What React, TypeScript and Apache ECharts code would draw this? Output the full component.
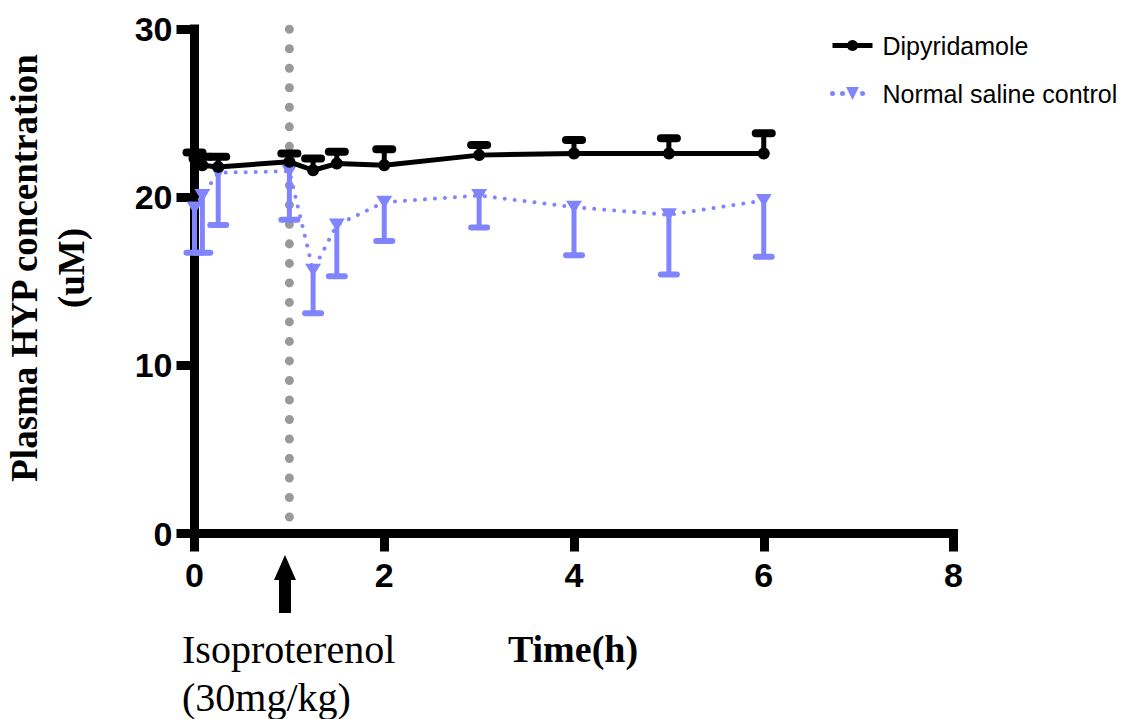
import React, { useEffect, useRef } from "react";
import * as echarts from "echarts";

// ---- data ----
const timePoints = [0, 0.083, 0.25, 1, 1.25, 1.5, 2, 3, 4, 5, 6];
const dipyridamoleMean = [22.3, 21.9, 21.8, 22.1, 21.6, 22.0, 21.9, 22.5, 22.6, 22.6, 22.6];
const dipyridamoleUpper = [22.65, 22.4, 22.4, 22.6, 22.3, 22.7, 22.85, 23.1, 23.4, 23.5, 23.8];
const salineMean = [19.35, 20.1, 21.45, 21.55, 15.65, 18.35, 19.7, 20.1, 19.4, 18.95, 19.8];
const salineLower = [16.7, 16.7, 18.35, 18.65, 13.1, 15.3, 17.4, 18.2, 16.55, 15.4, 16.45];
const seriesNames = ["Dipyridamole", "Normal saline control"];
const xTicks = [0, 2, 4, 6, 8];
const yTicks = [0, 10, 20, 30];
const injectionTime = 1;
const injectionLineRange = [0.98, 30.6];
const yAxisTitle = ["Plasma HYP concentration", "(uM)"];
const xAxisTitle = "Time(h)";
const injectionLabel = ["Isoproterenol", "(30mg/kg)"];

const BLUE = "#8084FF";
const SANS = "'Liberation Sans', Arial, Helvetica, sans-serif";
const SERIF = "'Liberation Serif', 'Times New Roman', serif";

function errorBarRenderer(color: string, capLen: number, capWidth: number) {
  return (_params: any, api: any) => {
    const x = api.value(0);
    const m = api.value(1);
    const e = api.value(2);
    const p0 = api.coord([x, m]);
    const p1 = api.coord([x, e]);
    return {
      type: "group",
      children: [
        {
          type: "line",
          shape: { x1: p0[0], y1: p0[1], x2: p1[0], y2: p1[1] },
          style: { stroke: color, lineWidth: 5 },
        },
        {
          type: "line",
          shape: { x1: p1[0] - capLen, y1: p1[1], x2: p1[0] + capLen, y2: p1[1] },
          style: { stroke: color, lineWidth: capWidth, lineCap: "round" },
        },
      ],
    };
  };
}

export default function App() {
  const ref = useRef<HTMLDivElement>(null);
  useEffect(() => {
    if (!ref.current) return;
    const chart = echarts.init(ref.current, undefined, { renderer: "svg" });
    const axisCommon = {
      type: "value" as const,
      axisLine: { show: true, onZero: false, lineStyle: { color: "#000", width: 9, cap: "square" } },
      axisTick: { show: true, length: 18, lineStyle: { color: "#000", width: 9 } },
      splitLine: { show: false },
    };
    const legendText = { fontSize: 25, fontFamily: SANS, color: "#000", padding: [0, 0, 0, 5] };
    chart.setOption({
      animation: false,
      backgroundColor: "#fff",
      grid: { left: 194.5, right: 193.5, top: 29, bottom: 185.5, containLabel: false },
      xAxis: {
        ...axisCommon,
        min: xTicks[0],
        max: xTicks[xTicks.length - 1],
        interval: xTicks[1] - xTicks[0],
        axisLabel: { fontSize: 34, fontWeight: "bold", color: "#000", fontFamily: SANS, margin: 24 },
      },
      yAxis: {
        ...axisCommon,
        min: yTicks[0],
        max: yTicks[yTicks.length - 1],
        interval: yTicks[1] - yTicks[0],
        axisLabel: { fontSize: 34, fontWeight: "bold", color: "#000", fontFamily: SANS, margin: 22 },
      },
      legend: [
        {
          data: [seriesNames[0]],
          left: 825,
          top: 28,
          itemWidth: 40,
          itemHeight: 14,
          lineStyle: { width: 5, color: "#000" },
          textStyle: legendText,
        },
        {
          data: [seriesNames[1]],
          left: 825,
          top: 76,
          itemWidth: 40,
          itemHeight: 16,
          lineStyle: { width: 5, color: BLUE, type: [0.01, 10], cap: "round" },
          textStyle: legendText,
        },
      ],
      series: [
        {
          type: "line",
          silent: true,
          clip: false,
          symbol: "none",
          data: [
            [injectionTime, injectionLineRange[0]],
            [injectionTime, injectionLineRange[1]],
          ],
          lineStyle: { color: "#999999", width: 9, type: [0.01, 19.5], cap: "round" },
          z: 1,
        },
        {
          type: "custom",
          clip: false,
          renderItem: errorBarRenderer(BLUE, 8, 6),
          encode: { x: 0, y: [1, 2] },
          data: timePoints.map((t, i) => [t, salineMean[i], salineLower[i]]),
          z: 2,
        },
        {
          name: seriesNames[1],
          type: "line",
          clip: false,
          data: timePoints.map((t, i) => [t, salineMean[i]]),
          symbol: "triangle",
          symbolRotate: 180,
          symbolSize: [16, 13],
          itemStyle: { color: BLUE },
          lineStyle: { color: BLUE, width: 4, type: [0.01, 10], cap: "round" },
          z: 3,
        },
        {
          type: "custom",
          clip: false,
          renderItem: errorBarRenderer("#000", 8, 8),
          encode: { x: 0, y: [1, 2] },
          data: timePoints.map((t, i) => [t, dipyridamoleMean[i], dipyridamoleUpper[i]]),
          z: 4,
        },
        {
          name: seriesNames[0],
          type: "line",
          clip: false,
          data: timePoints.map((t, i) => [t, dipyridamoleMean[i]]),
          symbol: "circle",
          symbolSize: 12,
          itemStyle: { color: "#000" },
          lineStyle: { color: "#000", width: 5 },
          z: 5,
        },
      ],
      graphic: [
        {
          type: "text",
          x: 48,
          y: 268,
          rotation: Math.PI / 2,
          style: {
            text: yAxisTitle.join("\n"),
            font: `bold 37px ${SERIF}`,
            fill: "#000",
            align: "center",
            verticalAlign: "middle",
            lineHeight: 47,
          },
        },
        {
          type: "text",
          x: 573,
          y: 649,
          style: {
            text: xAxisTitle,
            font: `bold 38px ${SERIF}`,
            fill: "#000",
            align: "center",
            verticalAlign: "middle",
          },
        },
        {
          type: "text",
          x: 182,
          y: 649,
          style: { text: injectionLabel[0], font: `40px ${SERIF}`, fill: "#000", align: "left", verticalAlign: "middle" },
        },
        {
          type: "text",
          x: 182,
          y: 697,
          style: { text: injectionLabel[1], font: `40px ${SERIF}`, fill: "#000", align: "left", verticalAlign: "middle" },
        },
        {
          type: "polygon",
          shape: {
            points: [
              [285, 555],
              [296, 580],
              [291, 580],
              [291, 613],
              [279, 613],
              [279, 580],
              [274, 580],
            ],
          },
          style: { fill: "#000" },
        },
      ],
    });
    return () => chart.dispose();
  }, []);
  return (
    <div
      ref={ref}
      style={{ position: "fixed", left: 0, top: 0, width: 1147, height: 719, background: "#fff" }}
    />
  );
}
